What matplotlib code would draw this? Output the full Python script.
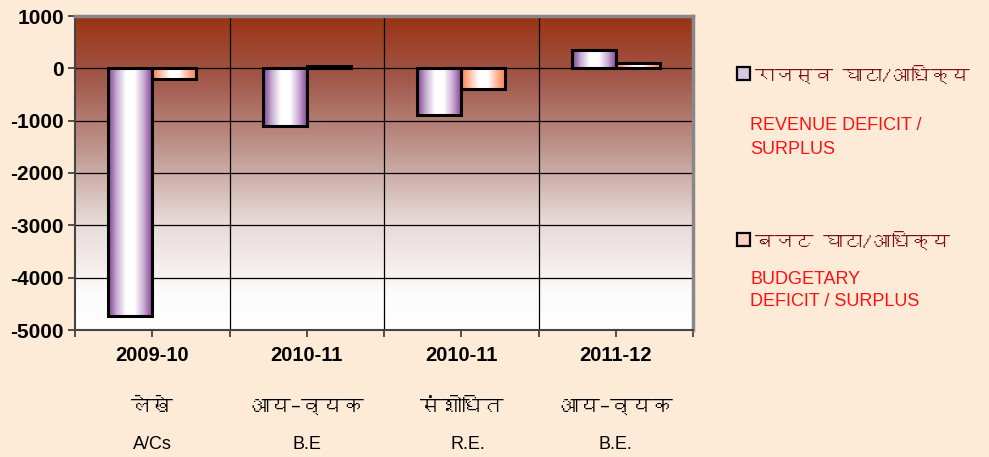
import numpy as np
import matplotlib
matplotlib.use("Agg")
import matplotlib.pyplot as plt
from matplotlib.colors import LinearSegmentedColormap
from matplotlib.patches import Rectangle
from matplotlib import font_manager
from matplotlib.ft2font import FT2Font

# data
years = ["2009-10", "2010-11", "2010-11", "2011-12"]
hindi_labels = ["लेखे", "आय–व्यक", "संशोधित", "आय–व्यक"]
eng_labels = ["A/Cs", "B.E", "R.E.", "B.E."]
revenue = [-4740, -1100, -900, 350]
budget = [-210, 40, -400, 100]
legend_hi = ["राजस्व घाटा/आधिक्य", "बजट घाटा/आधिक्य"]
legend_en = [["REVENUE DEFICIT /", "SURPLUS"], ["BUDGETARY", "DEFICIT / SURPLUS"]]
yticks = [1000, 0, -1000, -2000, -3000, -4000, -5000]


def find_deva_font():
    for f in font_manager.fontManager.ttflist:
        try:
            cmap = FT2Font(f.fname).get_charmap()
        except Exception:
            continue
        if 0x0915 in cmap:
            return f.name
    return None

deva = find_deva_font()
hi_family = [deva, "DejaVu Sans"] if deva else ["DejaVu Sans"]

W, H = 989, 457
bg = "#FDEAD7"
fig = plt.figure(figsize=(W / 100, H / 100), dpi=100, facecolor=bg)
ax = fig.add_axes([75 / W, 1 - 330 / H, (693 - 75) / W, (330 - 16) / H])

def px(x, y):
    return x / W, 1 - y / H

n = len(years)
x = np.arange(n)
bw = 0.285
ax.set_xlim(-0.5, n - 0.5)
ax.set_ylim(-5000, 1000)

# plot area gradient: dark brown at top -> white at bottom
grad_cmap = LinearSegmentedColormap.from_list(
    "bgc", [(0, "#FFFFFF"), (0.12, "#FDFBFB"), (0.35, "#E6D8D6"),
            (0.6, "#BB8F87"), (0.8, "#A2584A"), (1, "#993314")])
g = np.linspace(0, 1, 256).reshape(-1, 1)
ax.imshow(g, cmap=grad_cmap, origin="lower", aspect="auto",
          extent=[-0.5, n - 0.5, -5000, 1000], zorder=0)

purple = LinearSegmentedColormap.from_list(
    "pur", ["#7E3B8C", "#C8B0D4", "#FFFFFF", "#FFFFFF", "#C9A8D3", "#7E3B8C"])
coral = LinearSegmentedColormap.from_list(
    "cor", ["#FF7A4A", "#FFC0A8", "#FFFFFF", "#FFFFFF", "#FFB49A", "#FF7A4A"])
h = np.linspace(0, 1, 256).reshape(1, -1)

def grad_bars(xs, vals, cmap):
    bars = ax.bar(xs, vals, bw, facecolor="none", edgecolor="black",
                  linewidth=2.2, zorder=3)
    for b in bars:
        x0 = b.get_x()
        y0 = b.get_y()
        im = ax.imshow(h, cmap=cmap, aspect="auto", zorder=2,
                       extent=[x0, x0 + b.get_width(), y0, y0 + b.get_height()])
        im.set_clip_path(b)
    return bars

grad_bars(x - bw / 2, revenue, purple)
grad_bars(x + bw / 2, budget, coral)

# grid and axes
ax.set_yticks(yticks)
ax.set_yticklabels([str(v) for v in yticks], fontsize=15, fontweight="bold",
                   family="Liberation Sans")
ax.set_xticks(np.arange(-0.5, n, 0.5))
ax.set_xticklabels([])
ax.tick_params(axis="both", direction="out", length=5, width=1.2, color="#333333",
               pad=3)
for v in yticks:
    ax.axhline(v, color="black", lw=0.9, zorder=1)
for b in np.arange(0.5, n - 0.5, 1):
    ax.axvline(b, color="black", lw=0.9, zorder=1)
for s in ["top", "right"]:
    ax.spines[s].set_color("#888888")
    ax.spines[s].set_linewidth(2.5)
for s in ["left", "bottom"]:
    ax.spines[s].set_color("#444444")
    ax.spines[s].set_linewidth(1.5)

# category labels (three rows)
trans = ax.get_xaxis_transform()
for i in range(n):
    ax.text(x[i], -0.08, years[i], transform=trans, ha="center", va="center",
            fontsize=14.5, fontweight="bold", family="Liberation Sans")
    ax.text(x[i], -0.245, hindi_labels[i], transform=trans, ha="center",
            va="center", fontsize=15, family=hi_family)
    ax.text(x[i] + (0.04 if i == 2 else 0), -0.365, eng_labels[i],
            transform=trans, ha="center", va="center", fontsize=13,
            family="Liberation Sans")

# legend
sq_colors = ["#D6C6E2", "#FBCFC2"]
sq_y = [74, 240]
en_off = [52, 39]
for k in range(2):
    sx, sy = px(737, sq_y[k] + 6)
    fig.patches.append(Rectangle((sx, sy), 13 / W, 13 / H, transform=fig.transFigure,
                                 facecolor=sq_colors[k], edgecolor="black", lw=1.6))
    tx, ty = px(755, sq_y[k])
    fig.text(tx, ty, legend_hi[k], ha="left", va="center", fontsize=14,
             fontweight="bold", color="#7A1010", family=hi_family)
    for j, line in enumerate(legend_en[k]):
        lx, ly = px(750, sq_y[k] + en_off[k] + 23 * j)
        fig.text(lx, ly, line, ha="left", va="center", fontsize=13,
                 color="#FF1010", family="Liberation Sans")

fig.savefig("out.png", dpi=100, facecolor=bg)
